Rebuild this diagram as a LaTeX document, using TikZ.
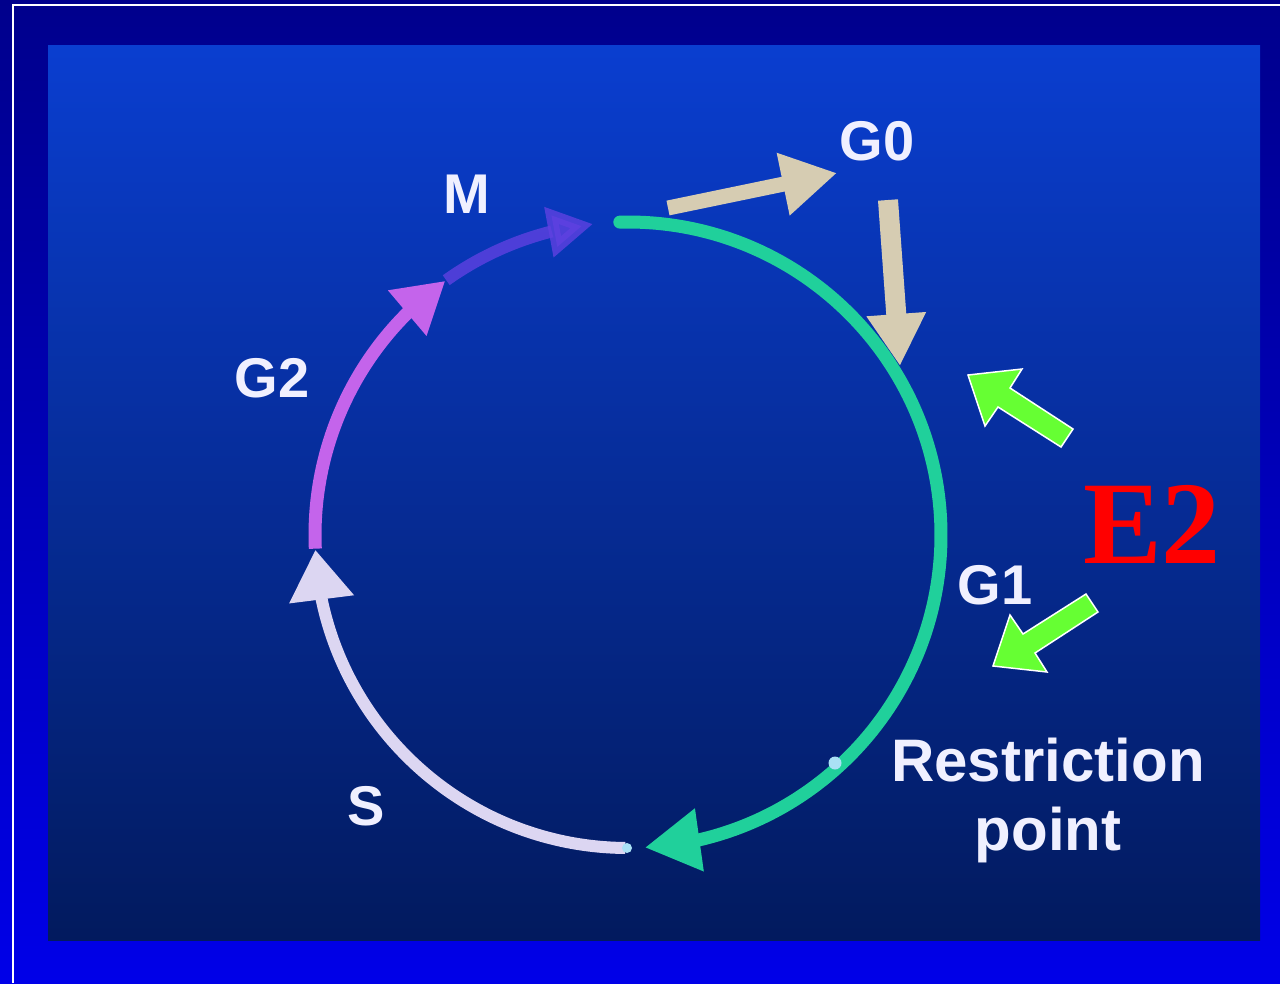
\documentclass[tikz,border=0pt]{standalone}
\usepackage{fontspec}
\setmainfont{Liberation Sans}
\newfontfamily\eserif{Liberation Serif}
\usetikzlibrary{arrows.meta,bending}
\definecolor{outertop}{RGB}{0,0,140}
\definecolor{outerbot}{RGB}{0,0,232}
\definecolor{innertop}{RGB}{10,62,208}
\definecolor{innermid}{RGB}{2,38,160}
\definecolor{innerbot}{RGB}{2,26,94}
\definecolor{gone}{RGB}{32,208,155}
\definecolor{sphase}{RGB}{220,214,242}
\definecolor{gtwo}{RGB}{196,100,235}
\definecolor{mphase}{RGB}{95,65,225}
\definecolor{gzero}{RGB}{214,204,178}
\definecolor{etwo}{RGB}{102,255,51}
\definecolor{labelc}{RGB}{240,240,255}
\definecolor{dotc}{RGB}{170,225,245}
\tikzset{
  phaselabel/.style={text=labelc, font=\bfseries\fontsize{56}{60}\selectfont, inner sep=0pt},
  rplabel/.style={text=labelc, font=\bfseries\fontsize{60}{64}\selectfont, inner sep=0pt, anchor=base},
  e2label/.style={text=red, font=\eserif\bfseries\fontsize{118}{120}\selectfont, inner sep=0pt, anchor=base},
  g0arrow/.style={draw=gzero, line width=18pt, -{Triangle[length=55pt,width=60pt]}},
  e2arrow/.style={fill=etwo, draw=white, line width=1.5pt, line join=miter},
  dotmark/.style={circle, fill=dotc, inner sep=0pt, minimum size=#1}
}
\begin{document}
\begin{tikzpicture}[x=1pt,y=-1pt]
\useasboundingbox (0,0) rectangle (1280,983);
% backgrounds
\shade[top color=outertop,bottom color=outerbot] (0,0) rectangle (1280,983);
\draw[white, line width=2pt] (13,983) -- (13,4.5) -- (1280,4.5);
\shade[top color=innertop, middle color=innermid, bottom color=innerbot] (48,45) rectangle (1260,940);

\coordinate (c) at (628,535);
% S phase (lavender)
\draw[sphase, line width=12pt, -{Triangle[length=50pt,width=62pt]}]
  ([shift={(90.5:313)}]c) arc[start angle=90.5, end angle=177.3, radius=313];
% G2 (violet)
\draw[gtwo, line width=13pt, -{Triangle[length=50pt,width=56pt]}]
  ([shift={(177.5:313)}]c) arc[start angle=177.5, end angle=234.3, radius=313];
% M (purple, faded)
\draw[mphase, opacity=0.8, line width=12pt, -{Triangle[length=45pt,width=48pt]}]
  ([shift={(234.5:313)}]c) arc[start angle=234.5, end angle=263.6, radius=313];
% G1 (green)
\draw[gone, line width=13pt, line cap=round, -{Triangle[length=55pt,width=60pt]}]
  ([shift={(-91.5:313)}]c) arc[start angle=-91.5, end angle=86.9, radius=313];

% dots
\node[dotmark=10pt] (sdot) at (627,848) {};
\node[dotmark=13pt] (rp) at (835,763) {};

% G0 arrows
\coordinate (g0out) at (668,208);
\coordinate (g0tip) at (837,173);
\coordinate (g0back) at (888,200);
\coordinate (g0in) at (900,366);
\draw[g0arrow, line width=15pt] (g0out) -- (g0tip);
\draw[g0arrow, line width=20pt, -{Triangle[length=52pt,width=56pt]}] (g0back) -- (g0in);

% E2 arrows
\begin{scope}[shift={(968,375)}]
\draw[e2arrow] (0,0) -- (54,-6) -- (42,13) -- (105,54) -- (93,72) -- (30,32) -- (17,51) -- cycle;
\end{scope}
\begin{scope}[shift={(993,666)}, yscale=-1]
\draw[e2arrow] (0,0) -- (54,-6) -- (42,13) -- (105,54) -- (93,72) -- (30,32) -- (17,51) -- cycle;
\end{scope}

% labels
\node[phaselabel] (lm) at (467,194) {M};
\node[phaselabel] (lg0) at (877,141) {G0};
\node[phaselabel] (lg2) at (272,378) {G2};
\node[phaselabel] (lg1) at (995,585) {G1};
\node[phaselabel] (ls) at (366,806) {S};
\node[rplabel] (lr1) at (1048,781) {Restriction};
\node[rplabel] (lr2) at (1048,850) {point};
\node[e2label] (le2) at (1152,563) {E2};
\end{tikzpicture}
\end{document}
